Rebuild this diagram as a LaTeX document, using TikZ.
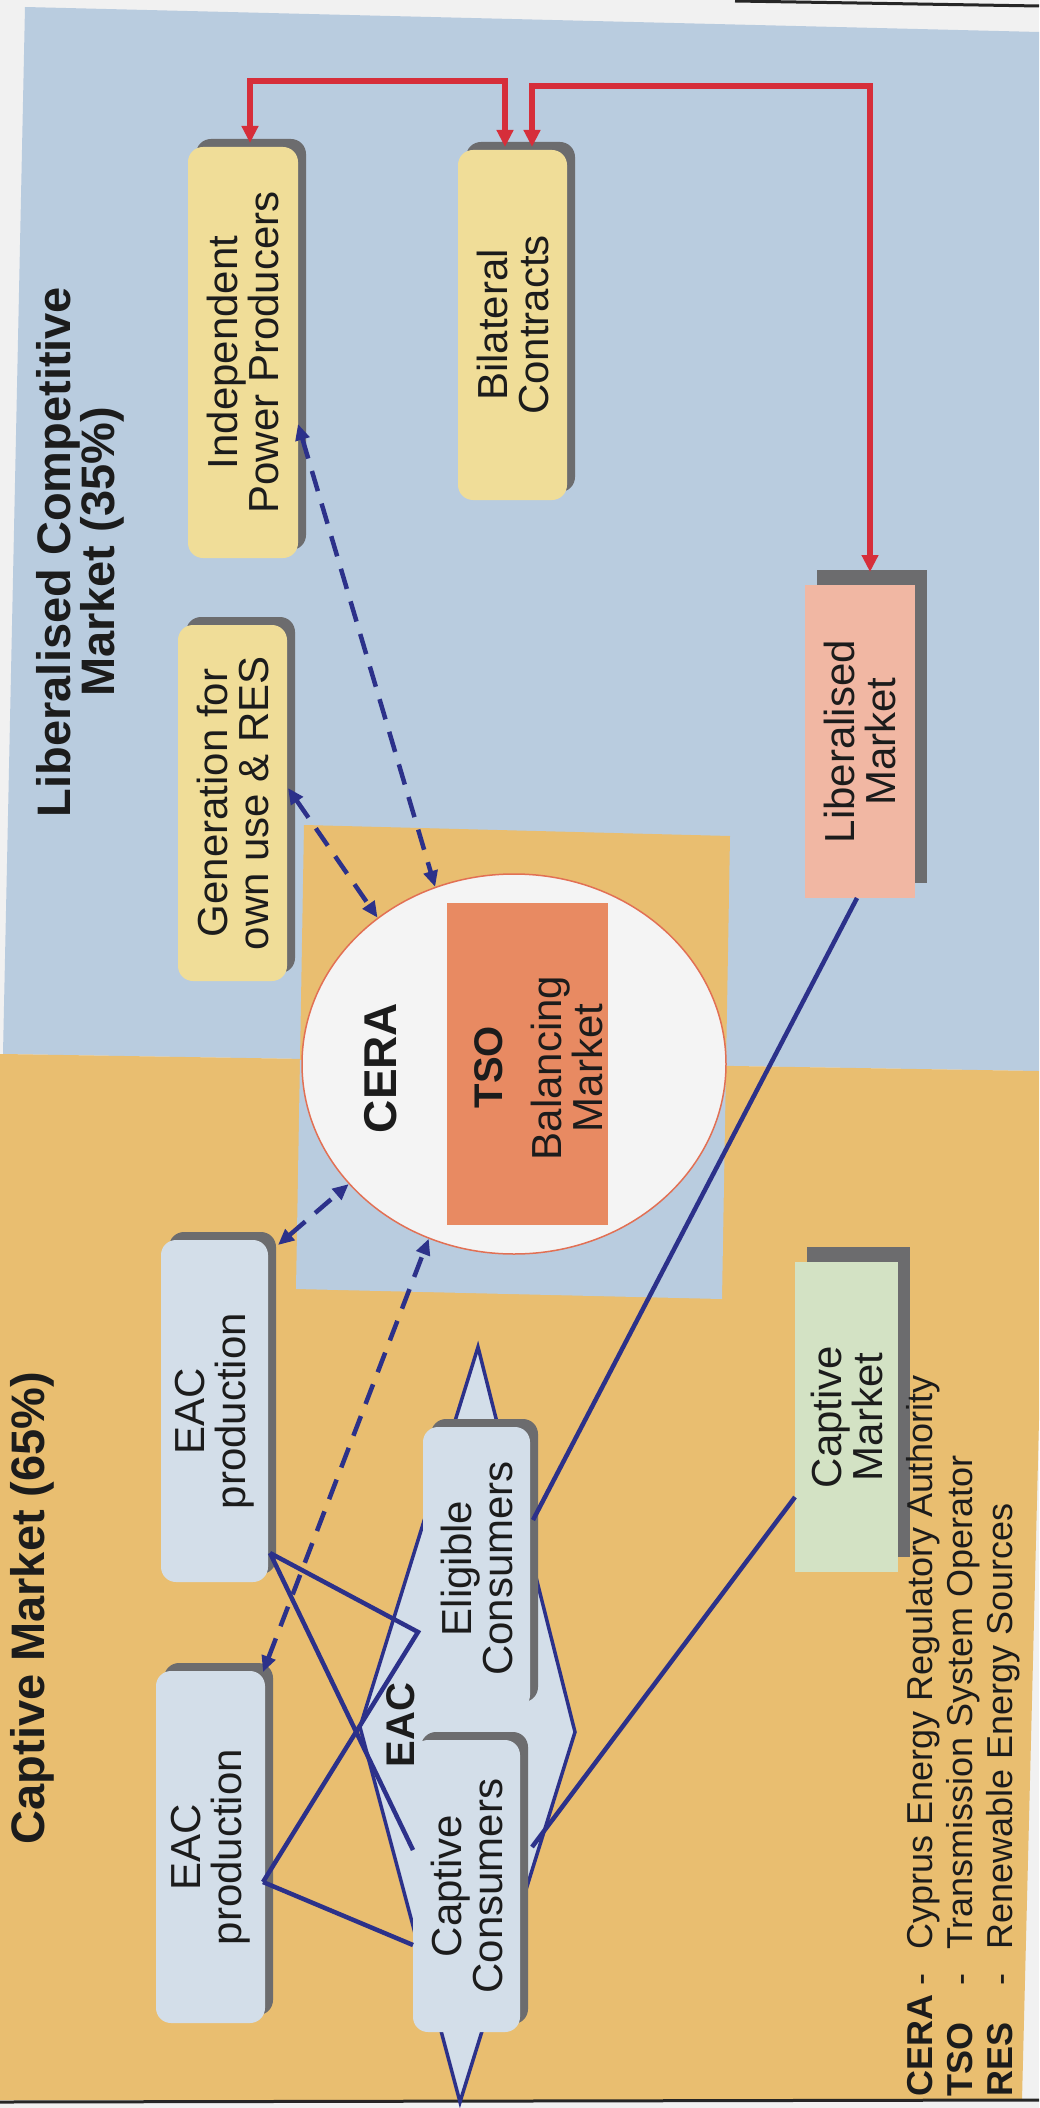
\documentclass[tikz,border=0pt]{standalone}
\usepackage{fontspec}
\setmainfont{Liberation Sans}
\usepackage{graphicx}
\usetikzlibrary{shapes.geometric,shadows,calc,arrows.meta}
\definecolor{paper}{RGB}{241,241,241}
\definecolor{bgblue}{RGB}{185,204,223}
\definecolor{bgorange}{RGB}{233,190,112}
\definecolor{boxyellow}{RGB}{240,221,152}
\definecolor{boxblue}{RGB}{211,222,233}
\definecolor{boxpink}{RGB}{241,183,163}
\definecolor{boxgreen}{RGB}{211,226,196}
\definecolor{tsoc}{RGB}{232,138,98}
\definecolor{shadowc}{RGB}{108,108,110}
\definecolor{navy}{RGB}{44,49,138}
\definecolor{redc}{RGB}{214,46,58}
\definecolor{circb}{RGB}{226,112,84}
\definecolor{circw}{RGB}{244,244,244}
\definecolor{textc}{RGB}{28,28,28}
\begin{document}
\begin{tikzpicture}[x=1pt,y=-1pt,
 box/.style={rectangle, inner sep=0pt, outer sep=0pt, draw=none},
 rbox/.style={box, rounded corners=15pt, drop shadow={shadow xshift=8pt, shadow yshift=8pt, fill=shadowc, opacity=1}},
 ybox/.style={rbox, fill=boxyellow},
 bbox/.style={rbox, fill=boxblue},
 flatbox/.style={box, drop shadow={shadow xshift=12pt, shadow yshift=15pt, fill=shadowc, opacity=1}},
 txt/.style={rotate=90, align=center, inner sep=0pt, text=textc, font=\fontsize{42}{41}\selectfont},
 titletxt/.style={rotate=90, align=center, inner sep=0pt, text=textc, font=\fontsize{47}{44}\selectfont\bfseries},
 leg/.style={rotate=90, anchor=base west, inner sep=0pt, text=textc, font=\fontsize{36}{40}\selectfont},
 redline/.style={draw=redc, line width=5.5pt, {Triangle[length=17pt,width=16pt]}-{Triangle[length=17pt,width=16pt]}},
 dashline/.style={draw=navy, line width=4.5pt, dash pattern=on 21pt off 13pt, {Triangle[length=16pt,width=14pt]}-{Triangle[length=16pt,width=14pt]}},
 navyline/.style={draw=navy, line width=4.5pt},
]
\useasboundingbox (0,0) rectangle (1039,2108);
% background
\fill[paper] (0,0) rectangle (1039,2108);
\fill[bgblue] (25,7) -- (1039,32) -- (1039,1071) -- (3,1054) -- cycle;
\fill[bgorange] (3,1054) -- (1039,1071) -- (1039,1420) -- (1022,2100) -- (0,2100) -- (0,1054) -- cycle;
\draw[line width=3pt, black!85] (735,1) -- (1039,6);
\draw[line width=3pt, black!85] (0,2102) -- (1039,2100);
% CERA square
\fill[bgorange] (304,825) -- (730,836) -- (726,1066) -- (300,1060) -- cycle;
\fill[bgblue] (300,1060) -- (726,1066) -- (722,1299) -- (296,1289) -- cycle;
% EAC diamond
\filldraw[fill=boxblue, draw=navy, line width=3.5pt] (478,1347) -- (575,1732) -- (460,2102) -- (360,1727) -- cycle;
% boxes
\node[ybox, minimum width=110pt, minimum height=411pt] (ipp) at (243,352.5) {};
\node[ybox, minimum width=109pt, minimum height=350pt] (bil) at (512.5,325) {};
\node[ybox, minimum width=109pt, minimum height=356pt] (gen) at (232.5,803) {};
\node[bbox, minimum width=107pt, minimum height=342pt] (eacA) at (214.5,1411) {};
\node[bbox, minimum width=109pt, minimum height=352pt] (eacB) at (210.5,1847) {};
\node[bbox, minimum width=107pt, minimum height=283pt] (elig) at (476.5,1568.5) {};
\node[bbox, minimum width=107pt, minimum height=292pt] (capc) at (466.5,1886) {};
\node[flatbox, fill=boxpink, minimum width=110pt, minimum height=313pt] (libm) at (860,741.5) {};
\node[flatbox, fill=boxgreen, minimum width=103pt, minimum height=310pt] (capm) at (846.5,1417) {};
% CERA circle and TSO
\node[ellipse, draw=circb, line width=1.5pt, fill=circw, minimum width=424pt, minimum height=380pt, inner sep=0pt] (cera) at (514,1064) {};
\node[box, fill=tsoc, minimum width=161pt, minimum height=322pt] (tso) at (527.5,1064) {};
% solid connectors
\coordinate (eacAc) at ($(eacA.south east)+(2,-29)$);
\coordinate (eacBc) at ($(eacB.east)+(-2,35)$);
\coordinate (vtx) at ($(elig.west)+(-5,63.5)$);
\draw[navyline] (eacAc) -- (vtx) -- (eacBc);
\draw[navyline] (eacAc) -- ($(capc.west)+(0,-36)$);
\draw[navyline] (eacBc) -- ($(capc.west)+(0,59)$);
\draw[navyline] ($(libm.south)+(-3,0)$) -- ($(elig.east)+(3,-48.5)$);
\draw[navyline] ($(capm.west)+(0,80)$) -- ($(capc.east)+(12,-39)$);
% dashed connectors
\draw[dashline] ($(ipp.east)+(0,71.5)$) -- (cera.114);
\draw[dashline] ($(gen.east)+(1,-15)$) -- (cera.133);
\draw[dashline] ($(eacA.north east)+(10,5)$) -- (cera.216);
\draw[dashline] ($(eacB.north east)+(-2,1)$) -- (cera.244);
% red connectors
\coordinate (r1L) at (250,81);
\coordinate (r1R) at (505,81);
\coordinate (r2L) at (532,86);
\coordinate (r2R) at (870,86);
\draw[redline] ($(ipp.north)+(7,-4)$) -- (r1L) -- (r1R) -- ($(bil.north)+(-7.5,-3)$);
\draw[redline] ($(bil.north)+(19.5,-3)$) -- (r2L) -- (r2R) -- ($(libm.north)+(10,-13)$);
% texts
\node[titletxt] (tlib) at (80,552) {Liberalised Competitive\\Market (35\%)};
\node[titletxt] (tcap) at (32,1608) {Captive Market (65\%)};
\node[txt] (ipp-t) at (ipp) {Independent\\Power Producers};
\node[txt] (bil-t) at (bil) {Bilateral\\Contracts};
\node[txt] (gen-t) at (gen) {Generation for\\own use \& RES};
\node[txt] (eacA-t) at (eacA) {EAC\\production};
\node[txt] (eacB-t) at (eacB) {EAC\\production};
\node[txt] (elig-t) at (elig) {Eligible\\Consumers};
\node[txt] (capc-t) at (capc) {Captive\\Consumers};
\node[txt] (libm-t) at (libm) {Liberalised\\Market};
\node[txt] (capm-t) at (capm) {Captive\\Market};
\node[rotate=90, inner sep=0pt, text=textc, font=\fontsize{46}{46}\selectfont\bfseries] (cera-t) at (381,1068) {CERA};
\node[rotate=90, inner sep=0pt, text=textc, font=\fontsize{40}{40}\selectfont\bfseries] (tso-t) at (489,1067) {TSO};
\node[txt] (bal-t) at (567,1068) {Balancing\\Market};
\node[rotate=90, inner sep=0pt, text=textc, font=\fontsize{40}{40}\selectfont\bfseries] (eac-t) at (401,1725) {EAC};
% legend
\node[leg] (lg1) at (932,2097) {\makebox[111pt][l]{\textbf{CERA}}\makebox[36pt][l]{-}Cyprus Energy Regulatory Authority};
\node[leg] (lg2) at (972,2097) {\makebox[111pt][l]{\textbf{TSO}}\makebox[36pt][l]{-}Transmission System Operator};
\node[leg] (lg3) at (1012,2097) {\makebox[111pt][l]{\textbf{RES}}\makebox[36pt][l]{-}Renewable Energy Sources};
\end{tikzpicture}
\end{document}
